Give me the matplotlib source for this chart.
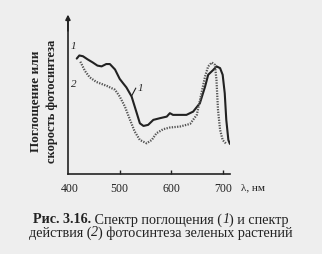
import numpy as np
import matplotlib.pyplot as plt

# данные (условные единицы по оси Y)
wl_absorb = [417, 422, 429, 438, 448, 457, 465, 474, 481, 491, 500, 507, 513, 523, 533,
             539, 546, 555, 565, 578, 591, 597, 603, 616, 629, 642, 655, 665, 671, 681,
             687, 694, 699, 703, 706, 710, 713]
absorb = [74, 76, 75.5, 73.5, 71.5, 69.5, 69, 70.5, 70.5, 67, 61, 58, 55.5, 49.7, 39,
          32.5, 30.8, 31.5, 34.7, 35.8, 36.8, 39, 37.9, 37.9, 37.9, 40, 45.4, 56, 63.6, 66.8,
          69, 67.9, 63.6, 51.8, 34.7, 21.8, 19.3]

wl_action = [424, 433, 442, 455, 475, 491, 500, 510, 520, 529, 539, 552, 562, 571,
             584, 597, 616, 636, 649, 658, 665, 671, 678, 684, 687, 690, 694, 699, 706]
action = [72, 66, 62, 59, 56.5, 54, 49.7, 43.3, 34.7, 27.2, 21.8, 19.7, 21.8, 26.1,
          28.7, 29.8, 30.4, 32.1, 37.9, 51.8, 62.5, 69, 71.5, 70, 60.4, 41.1, 28.3, 21.8, 19.3]

x_ticks = [500, 600, 700]
x_tick_labels = ['400', '500', '600', '700']

plt.rcParams['font.family'] = ['Liberation Serif', 'DejaVu Serif']
bg = '#eeeeee'
ink = '#222222'

fig = plt.figure(figsize=(3.22, 2.54), dpi=100, facecolor=bg)
ax = fig.add_axes([0.211, 0.315, 0.503, 0.614], facecolor=bg)

ax.plot(wl_absorb, absorb, color=ink, lw=1.5, solid_capstyle='round')
ax.plot(wl_action, action, color='#555555', lw=1.6, linestyle=(0, (0.6, 0.6)))

ax.set_xlim(400, 713)
ax.set_ylim(0, 100)
ax.spines['top'].set_visible(False)
ax.spines['right'].set_visible(False)
for s in ['left', 'bottom']:
    ax.spines[s].set_color(ink)
    ax.spines[s].set_linewidth(1.2)
ax.set_yticks([])
ax.set_xticks(x_ticks)
ax.set_xticklabels([])
ax.tick_params(axis='x', direction='in', length=3, width=1, colors=ink)

# стрелка оси Y
ax.annotate('', xy=(0, 1.04), xytext=(0, 0.9), xycoords='axes fraction',
            arrowprops=dict(arrowstyle='-|>', color=ink, lw=1.2, mutation_scale=7))

# подписи делений
for v, lab in zip([404] + x_ticks, x_tick_labels):
    ax.text(v, -6, lab, ha='center', va='top', fontsize=8.5, color=ink, clip_on=False)
ax.text(735, -6, 'λ, нм', ha='left', va='top', fontsize=8, color=ink, clip_on=False)

# подпись оси Y
fig.text(0.112, 0.6, 'Поглощение или', rotation=90, ha='center', va='center',
         fontsize=9.5, color=ink, fontweight='bold')
fig.text(0.162, 0.6, 'скорость фотосинтеза', rotation=90, ha='center', va='center',
         fontsize=9, color=ink, fontweight='bold')

# номера кривых
ax.text(410, 80, '1', fontsize=8, style='italic', color=ink, ha='center')
ax.text(411, 56, '2', fontsize=8, style='italic', color=ink, ha='center')
ax.plot([523, 531], [50, 55], color=ink, lw=0.8)
ax.text(534, 55, '1', fontsize=8, style='italic', color=ink, ha='left', va='center')

# подпись рисунка: куски разного начертания, выровненные по центру
renderer = fig.canvas.get_renderer()


def caption_line(pieces, y, size=10.2):
    texts = []
    for s, kw in pieces:
        texts.append(fig.text(0, y, s, fontsize=size, color=ink, va='center', **kw))
    widths = [t.get_window_extent(renderer).width / fig.bbox.width for t in texts]
    x = 0.5 - sum(widths) / 2
    for t, w in zip(texts, widths):
        t.set_x(x)
        x += w


caption_line([('Рис. 3.16.', dict(fontweight='bold')),
              (' Спектр поглощения (', {}),
              ('1', dict(style='italic')),
              (') и спектр', {})], 0.134)
caption_line([('действия (', {}),
              ('2', dict(style='italic')),
              (') фотосинтеза зеленых растений', {})], 0.083)

fig.savefig('out.png', dpi=100, facecolor=bg)
